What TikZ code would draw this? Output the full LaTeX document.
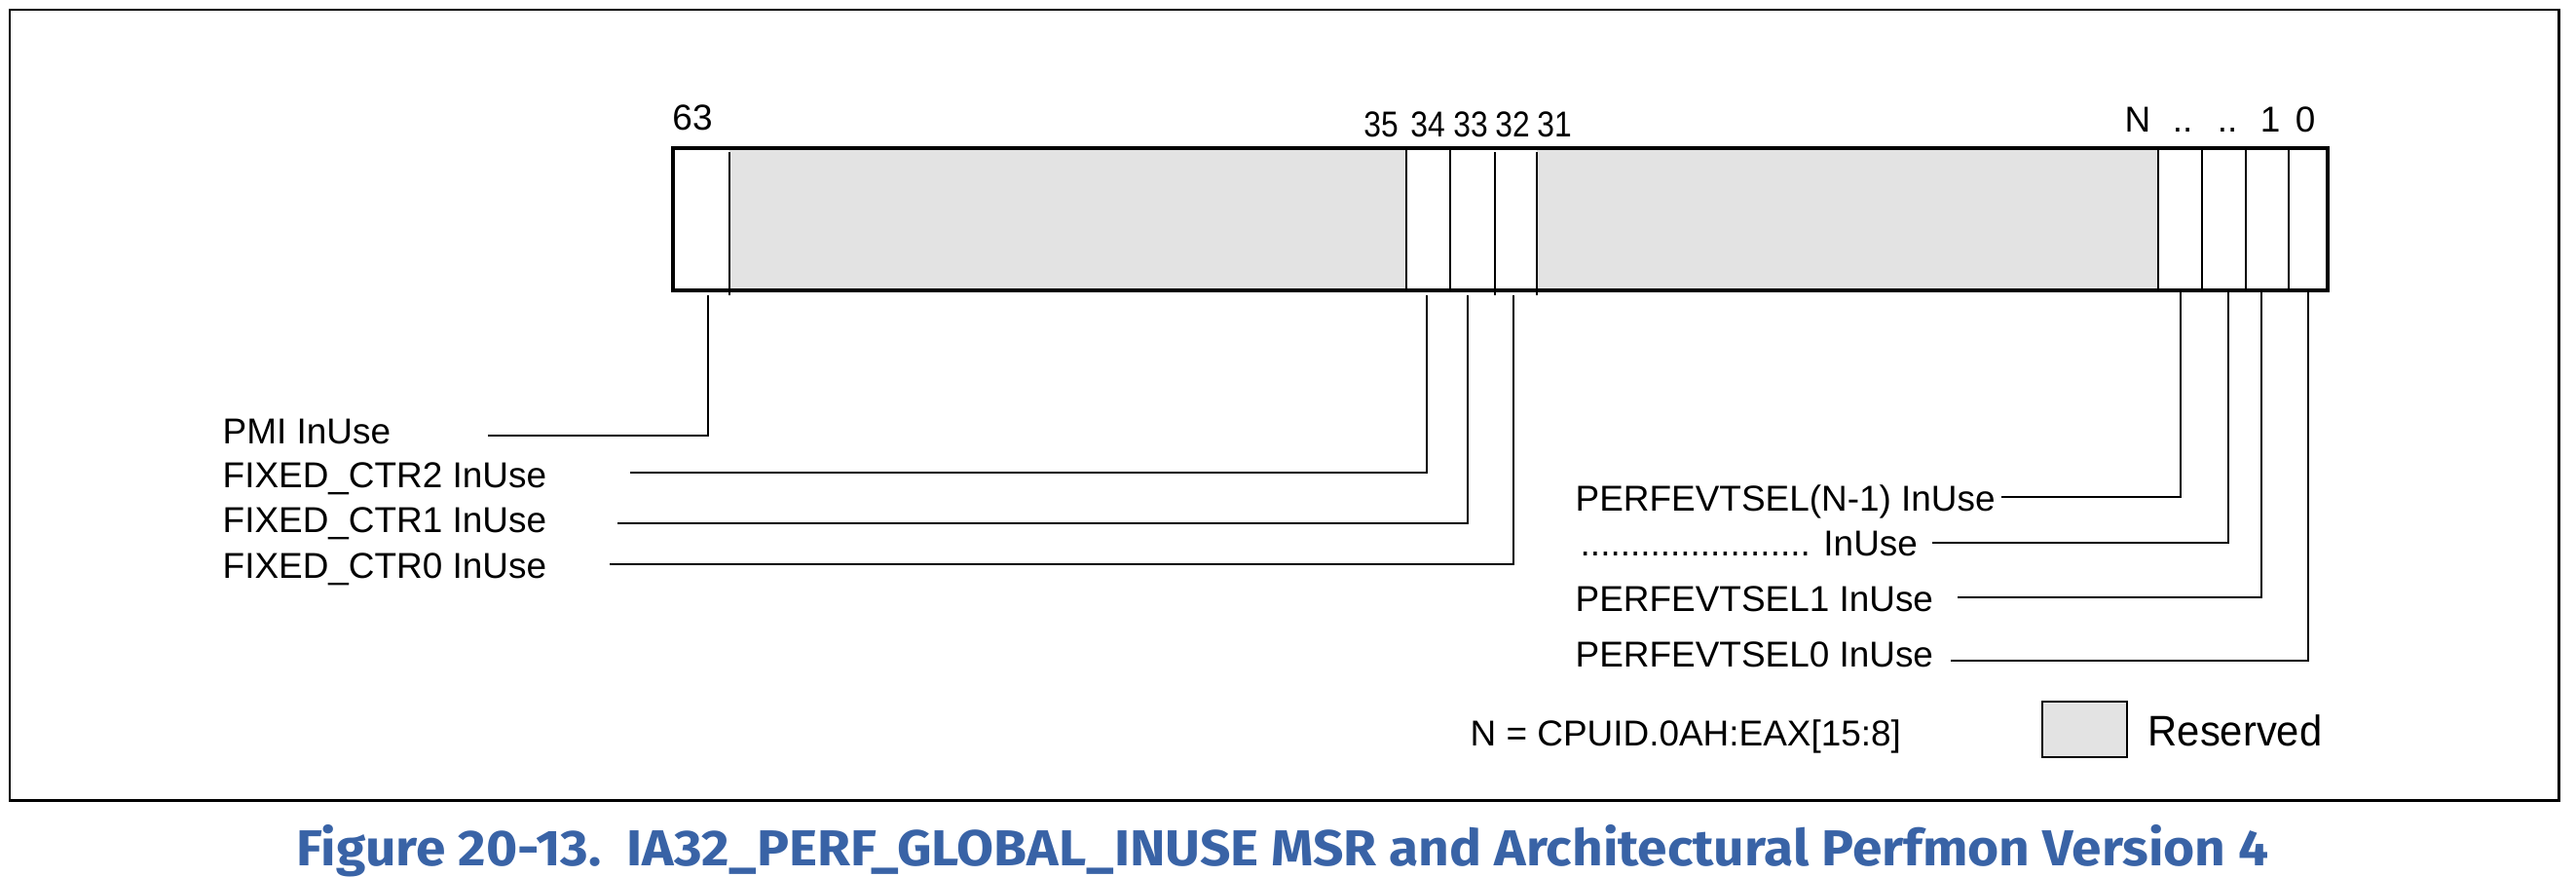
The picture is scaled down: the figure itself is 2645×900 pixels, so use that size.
\documentclass[tikz,border=0pt]{standalone}
\usepackage{fontspec}
\usepackage{graphicx}
\setmainfont{Liberation Sans}
\newfontfamily\capfont{Fira Sans}
\definecolor{resgray}{RGB}{227,227,227}
\definecolor{capblue}{RGB}{57,99,166}
\begin{document}
\begin{tikzpicture}[x=0.01cm,y=-0.01cm,
  lbl/.style={inner sep=0pt, font=\fontsize{10.5pt}{12pt}\selectfont, anchor=base west},
  bitlbl/.style={inner sep=0pt, font=\fontsize{10.5pt}{12pt}\selectfont, anchor=base},
  narrowbit/.style={bitlbl, xscale=0.86, transform shape},
  thinline/.style={line width=0.5pt},
  leader/.style={line width=0.5pt},
  framebox/.style={line width=0.85pt},
  regbox/.style={line width=0.95pt}]
\useasboundingbox (0,0) rectangle (2645,900);
% outer frame
\draw[framebox] (10,10) rectangle (2627,821);
% reserved fills
\fill[resgray] (749,152) rectangle (1444,298);
\fill[resgray] (1578,152) rectangle (2216,298);
% dividers
\foreach \x in {749,1535,1578} \draw[thinline] (\x,156) -- (\x,303);
\foreach \x in {1444,1489,2216,2261,2306,2350} \draw[thinline] (\x,152) -- (\x,298);
% register box
\draw[regbox] (691,152) rectangle (2390,298);
% bit labels
\node[bitlbl] (l63) at (711,133) {63};
\node[narrowbit] (l35) at (1418,140) {35};
\node[narrowbit] (l34) at (1466,140) {34};
\node[narrowbit] (l33) at (1510,140) {33};
\node[narrowbit] (l32) at (1553,140) {32};
\node[narrowbit] (l31) at (1596,140) {31};
\node[bitlbl] (lN) at (2195,135) {N};
\node[bitlbl] (ld1) at (2241,135) {..};
\node[bitlbl] (ld2) at (2287,135) {..};
\node[bitlbl] (l1) at (2331,135) {1};
\node[bitlbl] (l0) at (2367,135) {0};
% bit anchor coordinates
\coordinate (b63) at (727,303);
\coordinate (b34) at (1465,303);
\coordinate (b33) at (1507,303);
\coordinate (b32) at (1554,303);
\coordinate (bN) at (2239,298);
\coordinate (bD) at (2288,298);
\coordinate (b1) at (2322,298);
\coordinate (b0) at (2370,298);
% left labels
\node[lbl] (pmi) at (228,455) {PMI InUse};
\node[lbl] (fc2) at (228,500) {FIXED\_CTR2 InUse};
\node[lbl] (fc1) at (228,546) {FIXED\_CTR1 InUse};
\node[lbl] (fc0) at (228,593) {FIXED\_CTR0 InUse};
\coordinate (pmiE) at (501,447);
\coordinate (fc2E) at (647,485);
\coordinate (fc1E) at (634,537);
\coordinate (fc0E) at (626,579);
\draw[leader] (b63) |- (pmiE);
\draw[leader] (b34) |- (fc2E);
\draw[leader] (b33) |- (fc1E);
\draw[leader] (b32) |- (fc0E);
% right labels
\node[lbl] (pN) at (1617,524) {PERFEVTSEL(N-1) InUse};
\node[lbl] (pD) at (1622,570) {....................... InUse};
\node[lbl] (p1) at (1617,627) {PERFEVTSEL1 InUse};
\node[lbl] (p0) at (1617,684) {PERFEVTSEL0 InUse};
\coordinate (pNE) at (2055,510);
\coordinate (pDE) at (1984,557);
\coordinate (p1E) at (2010,613);
\coordinate (p0E) at (2003,678);
\draw[leader] (bN) |- (pNE);
\draw[leader] (bD) |- (pDE);
\draw[leader] (b1) |- (p1E);
\draw[leader] (b0) |- (p0E);
% legend
\node[lbl] (neq) at (1509,765) {N = CPUID.0AH:EAX[15:8]};
\draw[thinline, fill=resgray] (2097,720) rectangle (2184,777);
\node[lbl, font=\fontsize{12.5pt}{14pt}\selectfont, xscale=0.95, transform shape] (res) at (2205,765) {Reserved};
% caption
\node[inner sep=0pt, anchor=base west, text=capblue] (cap) at (304,888)
  {\resizebox{20.24cm}{0.42cm}{\capfont\bfseries Figure 20-13.\ \ IA32\_PERF\_GLOBAL\_INUSE MSR and Architectural Perfmon Version 4}};
\end{tikzpicture}
\end{document}
